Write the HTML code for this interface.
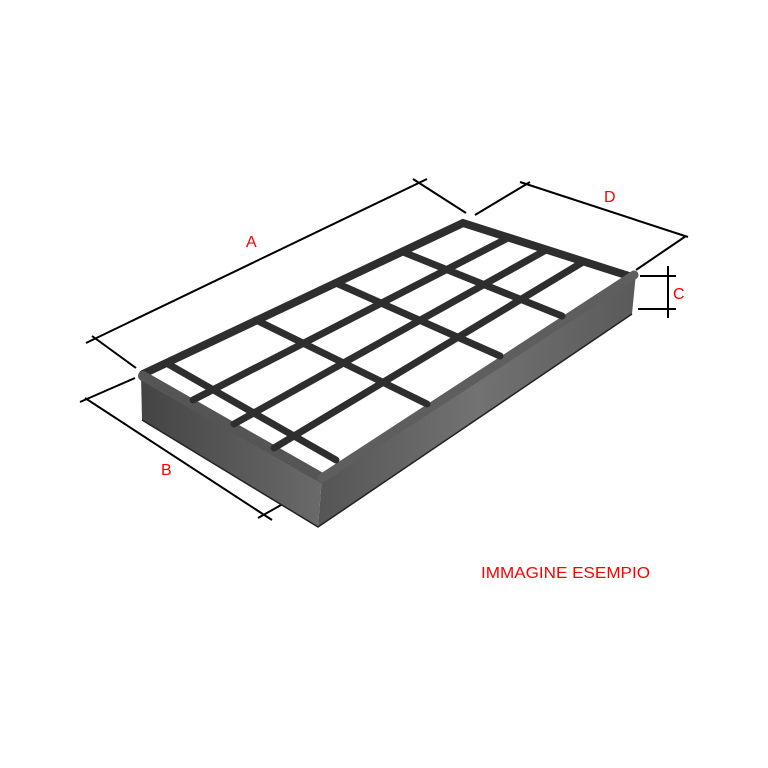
<!DOCTYPE html>
<html><head><meta charset="utf-8"><style>
html,body{margin:0;padding:0;background:#fff;width:768px;height:768px;overflow:hidden}
svg{display:block}
text{font-family:"Liberation Sans",sans-serif;fill:#ff0000}
</style></head><body>
<svg width="768" height="768" viewBox="0 0 768 768">
<defs>
<linearGradient id="gf" x1="0" y1="0" x2="1" y2="0">
<stop offset="0" stop-color="#555"/><stop offset="0.5" stop-color="#727272"/><stop offset="1" stop-color="#5a5a5a"/>
</linearGradient>
<linearGradient id="gl" x1="0" y1="0" x2="1" y2="0">
<stop offset="0" stop-color="#444"/><stop offset="1" stop-color="#6a6a6a"/>
</linearGradient>
</defs>
<g stroke="#000" stroke-width="2" fill="none">
<line x1="86" y1="343" x2="427" y2="179"/>
<line x1="92" y1="336" x2="136" y2="368"/>
<line x1="413" y1="179" x2="466" y2="213"/>
<line x1="80" y1="402" x2="135" y2="378"/>
<line x1="85" y1="398" x2="272" y2="520"/>
<line x1="258" y1="518" x2="313" y2="487"/>
<line x1="475" y1="215" x2="530" y2="182"/>
<line x1="520" y1="182" x2="688" y2="237"/>
<line x1="636" y1="270" x2="686" y2="236"/>
<line x1="668" y1="266" x2="668" y2="318"/>
<line x1="640" y1="276" x2="676" y2="276"/>
<line x1="638" y1="309" x2="676" y2="309"/>
</g>
<polygon points="141,375 322,477 318,527 142,420" fill="url(#gl)"/>
<polygon points="322,477 636,273 632,314 318,527" fill="url(#gf)"/>
<polyline points="142,420 318,527 632,314" fill="none" stroke="#222" stroke-width="1.5"/>
<g stroke="#2e2e2e" stroke-linecap="round" fill="none">
<polyline points="143,374 463,223 629,276" stroke-width="8"/>
<line x1="143" y1="376" x2="322" y2="478" stroke="#555" stroke-width="10"/>
<line x1="322" y1="478" x2="634" y2="275" stroke="#5e5e5e" stroke-width="9"/>
<g stroke-width="7">
<line x1="193" y1="400" x2="508" y2="238"/>
<line x1="234" y1="424" x2="546" y2="250"/>
<line x1="274" y1="448" x2="583" y2="262"/>
<line x1="168" y1="364" x2="336" y2="460"/>
<line x1="256" y1="320" x2="427" y2="404"/>
<line x1="336" y1="283" x2="500" y2="356"/>
<line x1="403" y1="252" x2="562" y2="316"/>
</g>
</g>
<text x="246" y="247" font-size="16">A</text>
<text x="161" y="475" font-size="16">B</text>
<text x="673" y="299" font-size="16">C</text>
<text x="604" y="202" font-size="16">D</text>
<text x="481" y="578" font-size="16" textLength="169" lengthAdjust="spacingAndGlyphs">IMMAGINE ESEMPIO</text>
</svg>
</body></html>
